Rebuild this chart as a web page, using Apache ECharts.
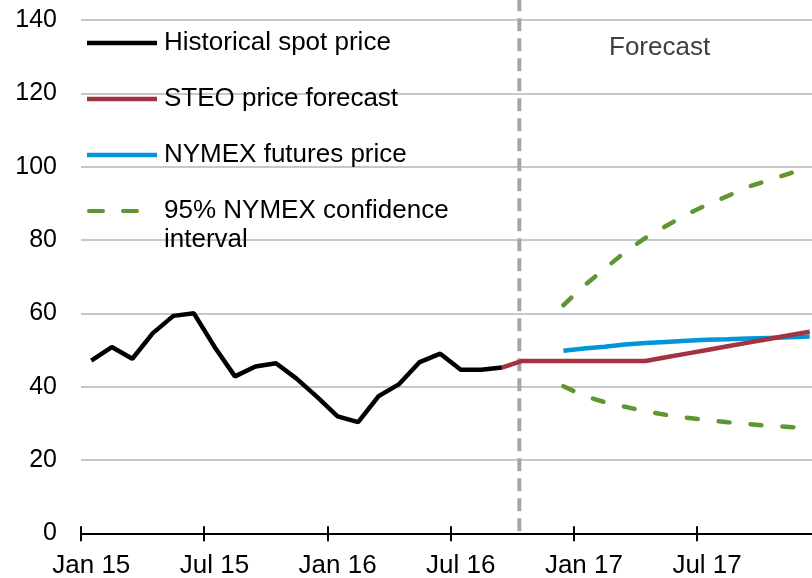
<!DOCTYPE html>
<html>
<head>
<meta charset="utf-8">
<script src="https://cdn.jsdelivr.net/npm/echarts@6/dist/echarts.min.js"></script>
<style>
html,body{margin:0;padding:0;background:#fff;}
#chart{width:812px;height:578px;}
</style>
</head>
<body>
<div id="chart"></div>
<script>
// Months Jan 15 .. Dec 17
const categories = [
  'Jan 15','Feb 15','Mar 15','Apr 15','May 15','Jun 15','Jul 15','Aug 15','Sep 15','Oct 15','Nov 15','Dec 15',
  'Jan 16','Feb 16','Mar 16','Apr 16','May 16','Jun 16','Jul 16','Aug 16','Sep 16','Oct 16','Nov 16','Dec 16',
  'Jan 17','Feb 17','Mar 17','Apr 17','May 17','Jun 17','Jul 17','Aug 17','Sep 17','Oct 17','Nov 17','Dec 17'
];
const historical = [47.1,50.8,47.6,54.6,59.3,60.0,50.9,42.8,45.5,46.4,42.2,37.2,
  31.9,30.3,37.4,40.7,46.7,49.0,44.6,44.6,45.2,null,null,null,
  null,null,null,null,null,null,null,null,null,null,null,null];
const steo = [null,null,null,null,null,null,null,null,null,null,null,null,
  null,null,null,null,null,null,null,null,45.2,47,47,47,
  47,47,47,47,48,49,50,51,52,53,54,55];
const nymex = [null,null,null,null,null,null,null,null,null,null,null,null,
  null,null,null,null,null,null,null,null,null,null,null,49.8,
  50.4,50.9,51.5,51.9,52.2,52.5,52.8,52.9,53.1,53.3,53.5,53.7];
const ciUpper = [null,null,null,null,null,null,null,null,null,null,null,null,
  null,null,null,null,null,null,null,null,null,null,null,62.2,
  67.5,72.1,76.7,80.6,83.8,87.0,89.6,92.0,94.5,96.3,98.1,100.1];
const ciLower = [null,null,null,null,null,null,null,null,null,null,null,null,
  null,null,null,null,null,null,null,null,null,null,null,40.1,
  37.5,35.8,34.5,33.3,32.3,31.5,30.9,30.3,29.8,29.3,29.0,28.7];
const yTicks = {min:0, max:140, interval:20};
const forecastStart = 'Oct 16';

const FONT = 'Arial, "Liberation Sans", sans-serif';
const CI_NAME = '95% NYMEX confidence interval';
const DASH_ICON = 'path://M2,0H16A2,2 0 0 1 16,4H2A2,2 0 0 1 2,0Z M36,0H50A2,2 0 0 1 50,4H36A2,2 0 0 1 36,0Z M70,0H70.01V4H70Z';

const chart = echarts.init(document.getElementById('chart'), null, {renderer:'canvas'});
chart.setOption({
  animation: false,
  backgroundColor: '#ffffff',
  grid: {left: 81, top: 20, width: 739, height: 513.3, containLabel: false, outerBoundsMode: 'none'},
  legend: {
    orient: 'vertical', left: 82, top: 25, padding: 5,
    itemWidth: 70, itemHeight: 4.5, itemGap: 30,
    data: [
      {name: 'Historical spot price', icon: 'rect'},
      {name: 'STEO price forecast', icon: 'rect'},
      {name: 'NYMEX futures price', icon: 'rect'},
      {name: CI_NAME, icon: DASH_ICON}
    ],
    textStyle: {fontFamily: FONT, fontSize: 26, color: '#000', lineHeight: 26, padding: [0, 0, 0, 2]},
    formatter: function(n){ return n === CI_NAME ? '95% NYMEX confidence' : n; },
    selectedMode: false
  },
  xAxis: [{
    type: 'category', data: categories, boundaryGap: true,
    axisLine: {show: true, lineStyle: {color: '#000', width: 2}},
    axisTick: {show: true, interval: 5, length: 8, lineStyle: {color: '#000', width: 2}},
    axisLabel: {interval: 5, margin: 20, fontFamily: FONT, fontSize: 26, color: '#000'},
    splitLine: {show: false}
  },{
    type: 'category', data: categories, boundaryGap: true, position: 'bottom',
    axisLine: {show: false},
    axisTick: {show: true, inside: true, interval: 5, length: 7, lineStyle: {color: '#000', width: 2}},
    axisLabel: {show: false}, splitLine: {show: false}
  }],
  yAxis: {
    type: 'value', min: yTicks.min, max: yTicks.max, interval: yTicks.interval,
    axisLine: {show: false}, axisTick: {show: false},
    axisLabel: {margin: 24, fontFamily: FONT, fontSize: 25, color: '#000'},
    splitLine: {lineStyle: {color: '#C8C8C8', width: 2}}
  },
  series: [
    {name: CI_NAME, type: 'line', data: ciUpper, symbol: 'none', z: 2,
     lineStyle: {color: '#5E9732', width: 4.5, type: [11, 21], cap: 'round'}, itemStyle: {color: '#5E9732'}},
    {name: CI_NAME, type: 'line', data: ciLower, symbol: 'none', z: 2,
     lineStyle: {color: '#5E9732', width: 4.5, type: [11, 21], cap: 'round'}, itemStyle: {color: '#5E9732'}},
    {name: 'NYMEX futures price', type: 'line', data: nymex, symbol: 'none', z: 3,
     lineStyle: {color: '#0096D7', width: 4.5}, itemStyle: {color: '#0096D7'}},
    {name: 'STEO price forecast', type: 'line', data: steo, symbol: 'none', z: 4,
     lineStyle: {color: '#A33340', width: 4.5}, itemStyle: {color: '#A33340'}},
    {name: 'Historical spot price', type: 'line', data: historical, symbol: 'none', z: 5,
     lineStyle: {color: '#000000', width: 4.5}, itemStyle: {color: '#000'}}
  ]
});

// Forecast divider, placed from the axis scale
const px = chart.convertToPixel({xAxisIndex: 0}, forecastStart) - 3;
const py0 = chart.convertToPixel({yAxisIndex: 0}, 0);
chart.setOption({
  graphic: [
    {type: 'line', z: 1, silent: true,
     shape: {x1: px, y1: py0 - 2, x2: px, y2: 0},
     style: {stroke: '#A6A6A6', lineWidth: 4, lineDash: [13, 7]}},
    {type: 'text', left: 164, top: 227, style: {text: 'interval', font: '26px ' + FONT, fill: '#000'}},
    {type: 'text', left: 609, top: 35, style: {text: 'Forecast', font: '26px ' + FONT, fill: '#404040'}}
  ]
});
</script>
</body>
</html>
